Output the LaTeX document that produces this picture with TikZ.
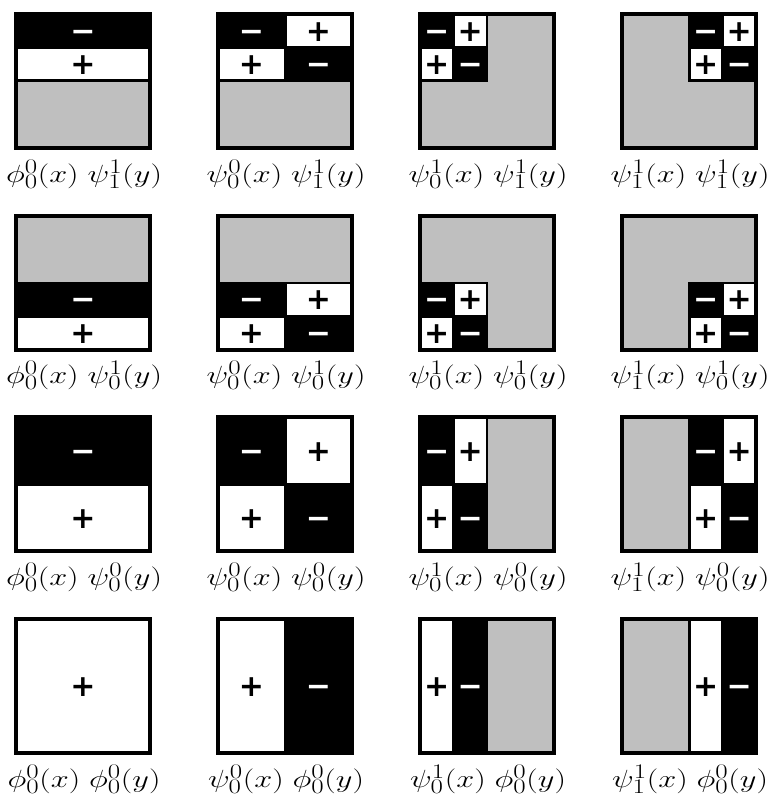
\documentclass[tikz,border=0pt]{standalone}
\usepackage{fontspec}
\newfontfamily\signfont{DejaVu Sans Bold}
\definecolor{zerogray}{HTML}{BFBFBF}
\tikzset{
  signbase/.style={font=\signfont\fontsize{30}{30}\selectfont, inner sep=0pt, anchor=base, yshift=-10.4pt},
  plussign/.style={signbase, text=black},
  minussign/.style={signbase, text=white},
  lab/.style={font=\fontsize{30}{32}\selectfont, inner sep=0pt},
}
% #1 col, #2 row, #3 #4 x-support, #5 #6 y-support, #7 x cells, #8 y cells, #9 label
\newcommand\basissq[9]{%
  \begin{scope}[shift={(16+202*#1,14+201.7*#2)}]
    \fill[zerogray] (0,0) rectangle (134,134);
    \filldraw[black, line width=2pt] (#3*134,#5*134) rectangle (#4*134,#6*134);
    \foreach \i/\a/\b/\s in #7 {
      \foreach \j/\c/\d/\t in #8 {
        \pgfmathtruncatemacro\p{\s*\t}
        \ifnum\p>0
          \fill[white] (\a*134+1.5,\c*134+1.5) rectangle (\b*134-1.5,\d*134-1.5);
          \node[plussign] (s-#1-#2-\i-\j) at ({(\a+\b)*67},{(\c+\d)*67}) {+};
        \else
          \node[minussign] (s-#1-#2-\i-\j) at ({(\a+\b)*67},{(\c+\d)*67}) {−};
        \fi
      }
    }
    \draw[line width=4pt] (0,0) rectangle (134,134);
    \node[lab] (l-#1-#2) at (68,160) {\scalebox{1.3}[1]{$#9$}};
  \end{scope}
}
\begin{document}
\begin{tikzpicture}[x=1pt,y=-1pt]
\useasboundingbox (0,0) rectangle (768,799);
% x-cells
\def\XA{1/0/1/1}
\def\XB{1/0/0.5/1,2/0.5/1/-1}
\def\XC{1/0/0.25/1,2/0.25/0.5/-1}
\def\XD{1/0.5/0.75/1,2/0.75/1/-1}
% y-cells (top to bottom)
\def\YA{1/0/1/1}
\def\YB{1/0/0.5/-1,2/0.5/1/1}
\def\YC{1/0.5/0.75/-1,2/0.75/1/1}
\def\YD{1/0/0.25/-1,2/0.25/0.5/1}
% row 0: psi_1^1(y)
\basissq{0}{0}{0}{1}{0}{0.5}{\XA}{\YD}{\phi^0_0(x)\;\psi^1_1(y)}
\basissq{1}{0}{0}{1}{0}{0.5}{\XB}{\YD}{\psi^0_0(x)\;\psi^1_1(y)}
\basissq{2}{0}{0}{0.5}{0}{0.5}{\XC}{\YD}{\psi^1_0(x)\;\psi^1_1(y)}
\basissq{3}{0}{0.5}{1}{0}{0.5}{\XD}{\YD}{\psi^1_1(x)\;\psi^1_1(y)}
% row 1: psi_0^1(y)
\basissq{0}{1}{0}{1}{0.5}{1}{\XA}{\YC}{\phi^0_0(x)\;\psi^1_0(y)}
\basissq{1}{1}{0}{1}{0.5}{1}{\XB}{\YC}{\psi^0_0(x)\;\psi^1_0(y)}
\basissq{2}{1}{0}{0.5}{0.5}{1}{\XC}{\YC}{\psi^1_0(x)\;\psi^1_0(y)}
\basissq{3}{1}{0.5}{1}{0.5}{1}{\XD}{\YC}{\psi^1_1(x)\;\psi^1_0(y)}
% row 2: psi_0^0(y)
\basissq{0}{2}{0}{1}{0}{1}{\XA}{\YB}{\phi^0_0(x)\;\psi^0_0(y)}
\basissq{1}{2}{0}{1}{0}{1}{\XB}{\YB}{\psi^0_0(x)\;\psi^0_0(y)}
\basissq{2}{2}{0}{0.5}{0}{1}{\XC}{\YB}{\psi^1_0(x)\;\psi^0_0(y)}
\basissq{3}{2}{0.5}{1}{0}{1}{\XD}{\YB}{\psi^1_1(x)\;\psi^0_0(y)}
% row 3: phi_0^0(y)
\basissq{0}{3}{0}{1}{0}{1}{\XA}{\YA}{\phi^0_0(x)\;\phi^0_0(y)}
\basissq{1}{3}{0}{1}{0}{1}{\XB}{\YA}{\psi^0_0(x)\;\phi^0_0(y)}
\basissq{2}{3}{0}{0.5}{0}{1}{\XC}{\YA}{\psi^1_0(x)\;\phi^0_0(y)}
\basissq{3}{3}{0.5}{1}{0}{1}{\XD}{\YA}{\psi^1_1(x)\;\phi^0_0(y)}
\end{tikzpicture}
\end{document}
